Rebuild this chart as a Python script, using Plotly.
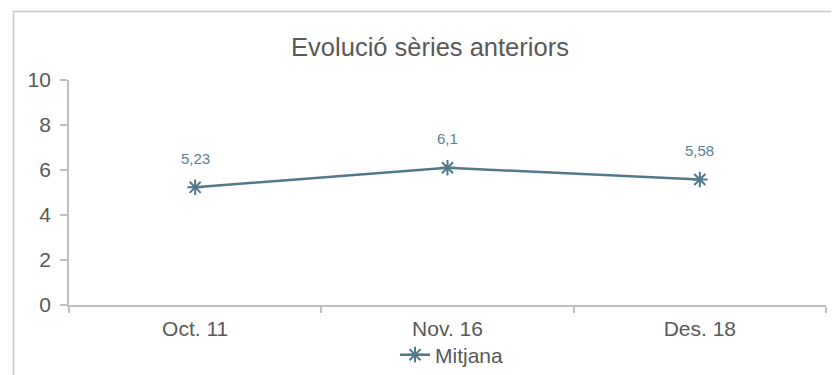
import plotly.graph_objects as go

categories = ["Oct. 11", "Nov. 16", "Des. 18"]
values = [5.23, 6.1, 5.58]
labels = ["5,23", "6,1", "5,58"]
series_name = "Mitjana"
title = "Evolució sèries anteriors"

# page body has an 8px margin, so figure coords = screen coords - 8
OFF = 8
W, H = 839, 375
L = 69 - OFF
T = 80 - OFF
R = W - (826 - OFF)
B = H - (305 - OFF)
pw, ph = W - L - R, H - T - B

line_color = "#52788C"
axis_color = "#BFBFBF"
text_color = "#595959"
label_color = "#5B7F93"
font_family = "Arial, Liberation Sans, sans-serif"

fig = go.Figure()
fig.add_trace(go.Scatter(
    x=categories, y=values, name=series_name,
    mode="lines+markers",
    line=dict(color=line_color, width=2.5),
    marker=dict(symbol="asterisk-open", size=13, line=dict(color=line_color, width=2), color=line_color),
))

annotations = [
    dict(x=c, y=v, xref="x", yref="y", text=t, showarrow=False, yshift=29,
         font=dict(color=label_color, size=15, family=font_family))
    for c, v, t in zip(categories, values, labels)
]

fig.update_layout(
    width=W, height=H,
    margin=dict(l=L, r=R, t=T, b=B, autoexpand=False),
    paper_bgcolor="white", plot_bgcolor="white",
    font=dict(family=font_family, color=text_color),
    title=dict(text=title, x=(430 - OFF) / W, xref="container", xanchor="center",
               y=1 - (47 - OFF) / H, yref="container", yanchor="middle", font=dict(size=25.5, color=text_color)),
    showlegend=True,
    legend=dict(orientation="h", x=(452 - OFF) / W, xref="container", xanchor="center",
                y=1 - (355 - OFF) / H, yref="container", yanchor="middle",
                font=dict(size=21, color=text_color), bgcolor="rgba(0,0,0,0)"),
    annotations=annotations,
    xaxis=dict(type="category", range=[-0.5, 2.5], showline=True, linecolor=axis_color, linewidth=1.75,
               ticks="outside", tickson="boundaries", ticklen=6, tickcolor=axis_color, tickwidth=1.5,
               showgrid=False, zeroline=False, tickfont=dict(size=21, color=text_color),
               ticklabelstandoff=4, automargin=False, fixedrange=True),
    yaxis=dict(range=[0, 10], dtick=2, showline=True, linecolor=axis_color, linewidth=1.75,
               ticks="outside", ticklen=7, tickcolor=axis_color, tickwidth=1.5, showgrid=False, zeroline=False,
               tickfont=dict(size=21, color=text_color), ticklabelstandoff=5,
               automargin=False, fixedrange=True),
    shapes=[dict(type="rect", xref="paper", yref="paper",
                 x0=(13.5 - OFF - L) / pw, x1=2, y0=-1, y1=1 + (T - (11.5 - OFF)) / ph,
                 line=dict(color="#C8C8C8", width=1.5), fillcolor="rgba(0,0,0,0)", layer="below")],
)

fig.write_html("out.html")
